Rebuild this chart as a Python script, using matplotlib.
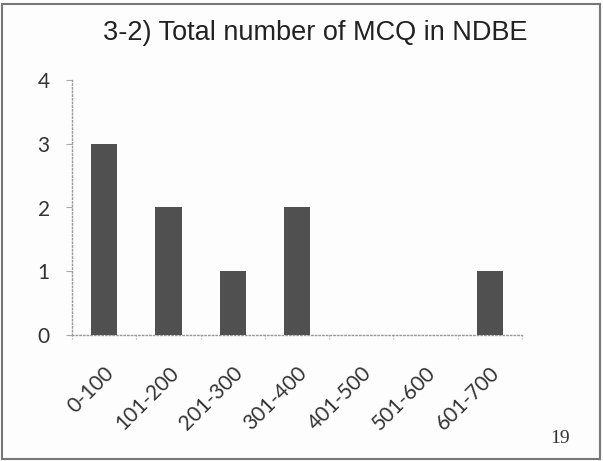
import matplotlib
matplotlib.use('Agg')
import matplotlib.pyplot as plt
from matplotlib.patches import Rectangle

# data
categories = ['0-100', '101-200', '201-300', '301-400', '401-500', '501-600', '601-700']
counts = [3, 2, 1, 2, 0, 0, 1]
y_ticks = [0, 1, 2, 3, 4]

fig = plt.figure(figsize=(6.03, 4.61), dpi=100)
fig.patch.set_facecolor('#fdfdfd')
ax = fig.add_axes([72/603, 1 - 335/461, 450/603, 255/461])
ax.set_facecolor('none')

ax.bar(range(len(categories)), counts, width=0.41, color='#505050', zorder=3)

ax.set_xlim(-0.5, len(categories) - 0.5)
ax.set_ylim(0, 4)
ax.set_yticks(y_ticks)
ax.set_yticklabels([str(v) for v in y_ticks], family='Lato', fontsize=15, color='#333333')
ax.set_xticks(range(len(categories)))
ax.set_xticklabels(categories, family='Lato', fontsize=15, color='#333333',
                   rotation=45, ha='right', va='top', rotation_mode='anchor')
ax.tick_params(axis='x', length=0, pad=20)
ax.tick_params(axis='y', length=4, color='#aaaaaa', direction='out', pad=12)

# category boundary ticks on the x axis
for b in range(len(categories) + 1):
    ax.plot([b - 0.5, b - 0.5], [0, -0.1], color='#aaaaaa', lw=0.8, ls=':', clip_on=False)

for side in ['top', 'right']:
    ax.spines[side].set_visible(False)
for side in ['left', 'bottom']:
    ax.spines[side].set_color('#999999')
    ax.spines[side].set_linestyle(':')
    ax.spines[side].set_linewidth(1.0)

fig.text(315/603, 1 - 33/461, '3-2) Total number of MCQ in NDBE', family='Liberation Sans',
         fontsize=19.5, color='#222222', ha='center', va='center')
fig.text(560/603, 1 - 438/461, '19', family='Liberation Serif', fontsize=14,
         color='#333333', ha='center', va='center')

# slide frame
fig.add_artist(Rectangle((2/603, 1 - 459/461), 598/603, 455/461, transform=fig.transFigure,
                         fill=False, ec='#777777', lw=1.5))

fig.savefig('out.png', dpi=100, facecolor=fig.get_facecolor())
